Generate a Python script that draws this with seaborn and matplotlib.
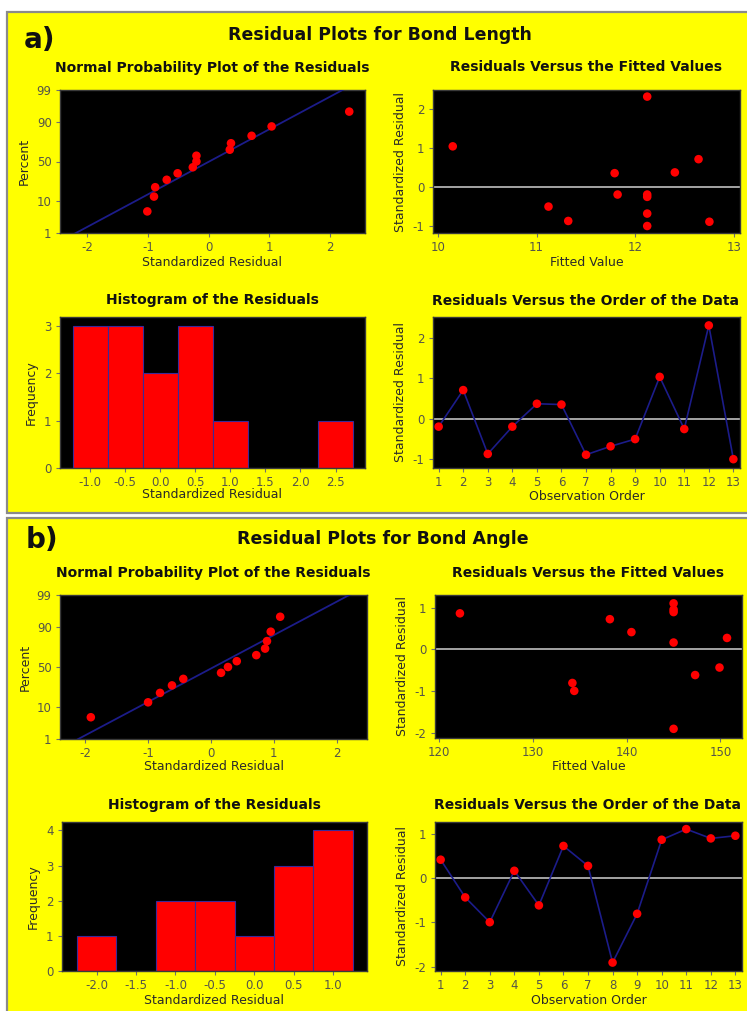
from statistics import NormalDist

import numpy as np
import matplotlib
matplotlib.use("Agg")
import matplotlib.pyplot as plt
import seaborn as sns
from matplotlib.patches import Rectangle

# ---- data: standardized residuals and fitted values, in observation order ----
length_order = list(range(1, 14))
length_resid = [-0.20, 0.71, -0.88, -0.20, 0.37, 0.35, -0.90, -0.69, -0.51, 1.04, -0.26, 2.32, -1.01]
length_fitted = [11.82, 12.64, 11.32, 12.12, 12.40, 11.79, 12.75, 12.12, 11.12, 10.15, 12.12, 12.12, 12.12]

angle_order = list(range(1, 14))
angle_resid = [0.41, -0.44, -1.00, 0.16, -0.62, 0.72, 0.27, -1.91, -0.81, 0.86, 1.10, 0.89, 0.95]
angle_fitted = [140.5, 149.9, 134.4, 145.0, 147.3, 138.2, 150.7, 145.0, 134.2, 122.2, 145.0, 145.0, 145.0]

percent_ticks = [1, 10, 50, 90, 99]
length_hist_ticks = [-1.0, -0.5, 0.0, 0.5, 1.0, 1.5, 2.0, 2.5]
angle_hist_ticks = [-2.0, -1.5, -1.0, -0.5, 0.0, 0.5, 1.0]
length_fit_ticks = [10, 11, 12, 13]
angle_fit_ticks = [120, 130, 140, 150]

# ---- styling ----
sns.set_theme(style="white")
FONT = ["DejaVu Sans"]
plt.rcParams["font.family"] = FONT
plt.rcParams["axes.unicode_minus"] = False

W, H = 747, 1011
YELLOW = "#ffff00"
NAVY = "#1c1c8a"
RED = "#ff0000"
TICK_C = "#555548"
LABEL_C = "#2a2a2a"

fig = plt.figure(figsize=(W / 100, H / 100), dpi=100)
fig.patch.set_facecolor("white")

# yellow panel backgrounds
for y0, y1 in [(12, 513), (518, 1013)]:
    fig.patches.append(Rectangle((7 / W, 1 - y1 / H), 1.0, (y1 - y0) / H,
                                 transform=fig.transFigure, facecolor=YELLOW,
                                 edgecolor="#8a8a8a", linewidth=1.6, zorder=-5))


def px_axes(x0, y0, x1, y1):
    ax = fig.add_axes([x0 / W, 1 - y1 / H, (x1 - x0) / W, (y1 - y0) / H])
    ax.set_facecolor("black")
    for s in ax.spines.values():
        s.set_color("#3a3a3a")
        s.set_linewidth(1.0)
    ax.tick_params(axis="both", which="both", direction="out", length=3, width=0.8,
                   color="#707070", labelcolor=TICK_C, labelsize=8.5, pad=3,
                   bottom=True, left=True)
    return ax


def fig_text(x, y, s, size, weight="bold", ha="center"):
    fig.text(x / W, 1 - y / H, s, ha=ha, va="center", fontsize=size,
             fontweight=weight, color="#111111")


def labels(ax, xlabel, ylabel, xoff, yoff, hpx, wpx):
    ax.set_xlabel(xlabel, fontsize=9, color=LABEL_C, va="center")
    ax.set_ylabel(ylabel, fontsize=9, color=LABEL_C, va="center")
    ax.xaxis.set_label_coords(0.5, -xoff / hpx)
    ax.yaxis.set_label_coords(-yoff / wpx, 0.5)


def dots(ax, x, y):
    sns.scatterplot(x=x, y=y, ax=ax, color=RED, s=38, edgecolor="none", zorder=4)


def prob_plot(ax, resid, xlim):
    nd = NormalDist()
    r = np.sort(np.asarray(resid))
    n = len(r)
    z = [nd.inv_cdf((i - 0.3) / (n + 0.4)) for i in range(1, n + 1)]
    mu, sd = np.mean(r), np.std(r, ddof=1)
    xs = np.array(xlim)
    sns.lineplot(x=xs, y=(xs - mu) / sd, ax=ax, color=NAVY, lw=1.3, zorder=3)
    dots(ax, r, z)
    ax.set_xlim(*xlim)
    ax.set_ylim(nd.inv_cdf(0.01), nd.inv_cdf(0.99))
    ax.set_yticks([nd.inv_cdf(p / 100) for p in percent_ticks])
    ax.set_yticklabels([str(p) for p in percent_ticks])
    ax.set_xticks([-2, -1, 0, 1, 2])


def fitted_plot(ax, fitted, resid, xlim, ylim, xticks, yticks):
    ax.axhline(0, color="#d0d0d0", lw=1.1, zorder=2)
    dots(ax, fitted, resid)
    ax.set_xlim(*xlim)
    ax.set_ylim(*ylim)
    ax.set_xticks(xticks)
    ax.set_yticks(yticks)


def hist_plot(ax, resid, ticks, xlim, ylim, yticks):
    edges = np.append(np.array(ticks) - 0.25, ticks[-1] + 0.25)
    sns.histplot(x=resid, bins=edges, ax=ax, color=RED, alpha=1.0,
                 edgecolor="#3a2a9a", linewidth=0.8)
    ax.set_xlim(*xlim)
    ax.set_ylim(*ylim)
    ax.set_xticks(ticks)
    ax.set_xticklabels([f"{t:.1f}" for t in ticks])
    ax.set_yticks(yticks)


def order_plot(ax, order, resid, ylim, yticks):
    ax.axhline(0, color="#d0d0d0", lw=1.1, zorder=2)
    sns.lineplot(x=order, y=resid, ax=ax, color=NAVY, lw=1.2, zorder=3)
    dots(ax, order, resid)
    ax.set_xlim(0.77, 13.27)
    ax.set_ylim(*ylim)
    ax.set_xticks(order)
    ax.set_yticks(yticks)


# ================= a) Bond Length =================
fig_text(24, 40, "a)", 20, ha="left")
fig_text(380, 35, "Residual Plots for Bond Length", 12.5)

ax = px_axes(60, 90, 365, 233)
prob_plot(ax, length_resid, (-2.45, 2.58))
labels(ax, "Standardized Residual", "Percent", 29, 36, 143, 305)
fig_text(212, 68, "Normal Probability Plot of the Residuals", 10)

ax = px_axes(433, 90, 740, 233)
fitted_plot(ax, length_fitted, length_resid, (9.95, 13.06), (-1.19, 2.49),
            length_fit_ticks, [-1, 0, 1, 2])
labels(ax, "Fitted Value", "Standardized Residual", 29, 33, 143, 307)
fig_text(586, 67, "Residuals Versus the Fitted Values", 10)

ax = px_axes(60, 317, 365, 468)
hist_plot(ax, length_resid, length_hist_ticks, (-1.43, 2.92), (0, 3.19), [0, 1, 2, 3])
labels(ax, "Standardized Residual", "Frequency", 26, 29, 151, 305)
fig_text(212, 300, "Histogram of the Residuals", 10)

ax = px_axes(433, 317, 740, 468)
order_plot(ax, length_order, length_resid, (-1.23, 2.53), [-1, 0, 1, 2])
labels(ax, "Observation Order", "Standardized Residual", 28, 33, 151, 307)
fig_text(586, 301, "Residuals Versus the Order of the Data", 10)

# ================= b) Bond Angle =================
fig_text(26, 540, "b)", 20, ha="left")
fig_text(383, 539, "Residual Plots for Bond Angle", 12.5)

ax = px_axes(60, 595, 367, 739)
prob_plot(ax, angle_resid, (-2.40, 2.48))
labels(ax, "Standardized Residual", "Percent", 28, 35, 144, 307)
fig_text(213, 573, "Normal Probability Plot of the Residuals", 10)

ax = px_axes(435, 595, 742, 738)
fitted_plot(ax, angle_fitted, angle_resid, (119.54, 152.3), (-2.13, 1.30),
            angle_fit_ticks, [-2, -1, 0, 1])
labels(ax, "Fitted Value", "Standardized Residual", 29, 33, 143, 307)
fig_text(588, 573, "Residuals Versus the Fitted Values", 10)

ax = px_axes(62, 822, 367, 971)
hist_plot(ax, angle_resid, angle_hist_ticks, (-2.44, 1.43), (0, 4.24), [0, 1, 2, 3, 4])
labels(ax, "Standardized Residual", "Frequency", 29, 29, 149, 305)
fig_text(214, 805, "Histogram of the Residuals", 10)

ax = px_axes(435, 822, 742, 971)
order_plot(ax, angle_order, angle_resid, (-2.10, 1.26), [-2, -1, 0, 1])
labels(ax, "Observation Order", "Standardized Residual", 29, 33, 149, 307)
fig_text(588, 805, "Residuals Versus the Order of the Data", 10)

fig.savefig("out.png", dpi=100, facecolor=fig.get_facecolor())
